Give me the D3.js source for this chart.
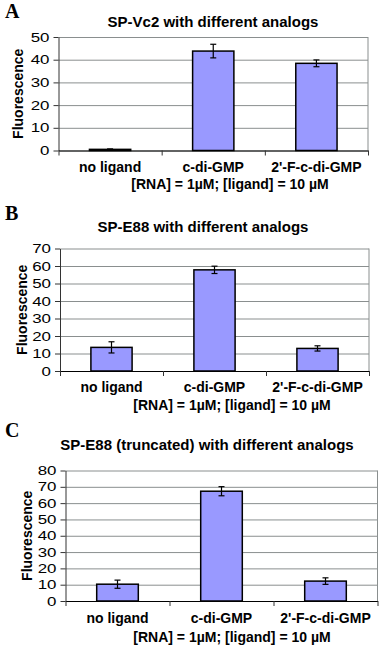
<!DOCTYPE html>
<html>
<head>
<meta charset="utf-8">
<script src="https://cdn.jsdelivr.net/npm/d3@7"></script>
<style>
  body { margin: 0; background: #fff; }
  svg { display: block; font-family: "Liberation Sans", Arial, sans-serif; }
</style>
</head>
<body>
<div id="graph"></div>
<script>
// data
const categories = ["no ligand", "c-di-GMP", "2'-F-c-di-GMP"];

const titleA = "SP-Vc2 with different analogs";
const valuesA = [0.5, 43.8, 38.4];
const errorsA = [0.2, 3.0, 1.5];
const ticksA = [0, 10, 20, 30, 40, 50];

const titleB = "SP-E88 with different analogs";
const valuesB = [13.5, 57.8, 12.9];
const errorsB = [3.2, 2.1, 1.5];
const ticksB = [0, 10, 20, 30, 40, 50, 60, 70];

const titleC = "SP-E88 (truncated) with different analogs";
const valuesC = [10.3, 67.3, 12.2];
const errorsC = [2.5, 2.8, 2.0];
const ticksC = [0, 10, 20, 30, 40, 50, 60, 70, 80];

const yLabel = "Fluorescence";
const xLabel = "[RNA] = 1\u00b5M; [ligand] = 10 \u00b5M";

const W = 380, H = 648;

const svg = d3.select("#graph")
  .append("svg")
  .attr("width", W)
  .attr("height", H);

// one panel = letter, title, plot, labels
function drawPanel(p) {
  const x = d3.scaleBand()
    .domain(categories)
    .range([p.x0, p.x1])
    .paddingInner(0.6)
    .paddingOuter(0.3);

  const y = d3.scaleLinear()
    .domain([0, d3.max(p.ticks)])
    .range([p.y0, p.yTop]);

  const data = categories.map((c, i) => ({ cat: c, v: p.values[i], e: p.errors[i] }));

  // panel letter
  svg.append("text")
    .attr("x", 5)
    .attr("y", p.letterY)
    .style("font-family", "'Liberation Serif', 'Times New Roman', serif")
    .style("font-weight", "bold")
    .style("font-size", "20px")
    .text(p.letter);

  // title
  svg.append("text")
    .attr("x", p.titleX)
    .attr("y", p.titleY)
    .attr("text-anchor", "middle")
    .style("font-weight", "bold")
    .style("font-size", "15px")
    .text(p.title);

  // gridlines
  const grid = svg.append("g")
    .attr("transform", "translate(" + p.x0 + ",0)")
    .call(d3.axisLeft(y).tickValues(p.ticks).tickSize(-(p.x1 - p.x0)).tickFormat(""));
  grid.select(".domain").remove();
  grid.selectAll("line").attr("stroke", "#8a8f8f").attr("stroke-width", 1);

  // right border of plot area
  svg.append("line")
    .attr("x1", p.x1).attr("x2", p.x1)
    .attr("y1", p.yTop).attr("y2", p.y0)
    .attr("stroke", "#8a8f8f");

  // y axis
  const yAxis = svg.append("g")
    .attr("transform", "translate(" + p.x0 + ",0)")
    .call(d3.axisLeft(y).tickValues(p.ticks).tickSize(5).tickPadding(4).tickSizeOuter(0));
  yAxis.select(".domain").attr("stroke", "#333");
  yAxis.selectAll(".tick line").attr("stroke", "#333");
  yAxis.selectAll(".tick text")
    .attr("x", null)
    .attr("transform", "translate(-9,0) scale(1.3,1)")
    .attr("fill", "#000")
    .style("font-size", "13px")
    .style("font-family", "'Liberation Sans', Arial, sans-serif");

  // bars
  svg.append("g")
    .selectAll("rect")
    .data(data)
    .join("rect")
    .attr("x", (d) => x(d.cat))
    .attr("y", (d) => y(d.v))
    .attr("width", x.bandwidth())
    .attr("height", (d) => y(0) - y(d.v))
    .attr("fill", "#9999ff")
    .attr("stroke", "#000")
    .attr("stroke-width", 1.5);

  // error bars
  const err = svg.append("g")
    .attr("stroke", "#000")
    .attr("stroke-width", 1.2);
  data.forEach((d) => {
    const cx = x(d.cat) + x.bandwidth() / 2;
    err.append("line").attr("x1", cx).attr("x2", cx).attr("y1", y(d.v + d.e)).attr("y2", y(d.v - d.e));
    err.append("line").attr("x1", cx - 3).attr("x2", cx + 3).attr("y1", y(d.v + d.e)).attr("y2", y(d.v + d.e));
    err.append("line").attr("x1", cx - 3).attr("x2", cx + 3).attr("y1", y(d.v - d.e)).attr("y2", y(d.v - d.e));
  });

  // x axis: ticks on category boundaries
  const xb = d3.scaleLinear().domain([0, categories.length]).range([p.x0, p.x1]);
  const xAxis = svg.append("g")
    .attr("transform", "translate(0," + p.y0 + ")")
    .call(d3.axisBottom(xb).tickValues(d3.range(categories.length + 1)).tickSize(5).tickFormat("").tickSizeOuter(0));
  xAxis.select(".domain").attr("stroke", "#000").attr("stroke-width", 1.2);
  xAxis.selectAll(".tick line").attr("stroke", "#333");

  // category labels
  svg.append("g")
    .selectAll("text")
    .data(categories)
    .join("text")
    .attr("x", (d) => x(d) + x.bandwidth() / 2)
    .attr("y", p.catY)
    .attr("text-anchor", "middle")
    .style("font-weight", "bold")
    .style("font-size", "14px")
    .text((d) => d);

  // x label
  svg.append("text")
    .attr("x", p.subX)
    .attr("y", p.subY)
    .attr("text-anchor", "middle")
    .style("font-weight", "bold")
    .style("font-size", "14px")
    .text(xLabel);

  // y label
  svg.append("text")
    .attr("transform", "translate(" + p.ylabX + "," + ((p.yTop + p.y0) / 2) + ")rotate(-90)")
    .attr("text-anchor", "middle")
    .style("font-weight", "bold")
    .style("font-size", "14px")
    .text(yLabel);
}

drawPanel({
  letter: "A", title: titleA, values: valuesA, errors: errorsA, ticks: ticksA,
  x0: 58.5, x1: 368, yTop: 37, y0: 150.5,
  letterY: 18, titleX: 213, titleY: 27, catY: 172, subX: 230, subY: 188.5, ylabX: 23
});

drawPanel({
  letter: "B", title: titleB, values: valuesB, errors: errorsB, ticks: ticksB,
  x0: 60, x1: 369, yTop: 248.5, y0: 371,
  letterY: 220, titleX: 203, titleY: 232, catY: 392, subX: 232, subY: 409.5, ylabX: 27
});

drawPanel({
  letter: "C", title: titleC, values: valuesC, errors: errorsC, ticks: ticksC,
  x0: 65.5, x1: 377.5, yTop: 470.5, y0: 601,
  letterY: 437, titleX: 207, titleY: 450, catY: 623, subX: 232, subY: 642, ylabX: 31.5
});
</script>
</body>
</html>
